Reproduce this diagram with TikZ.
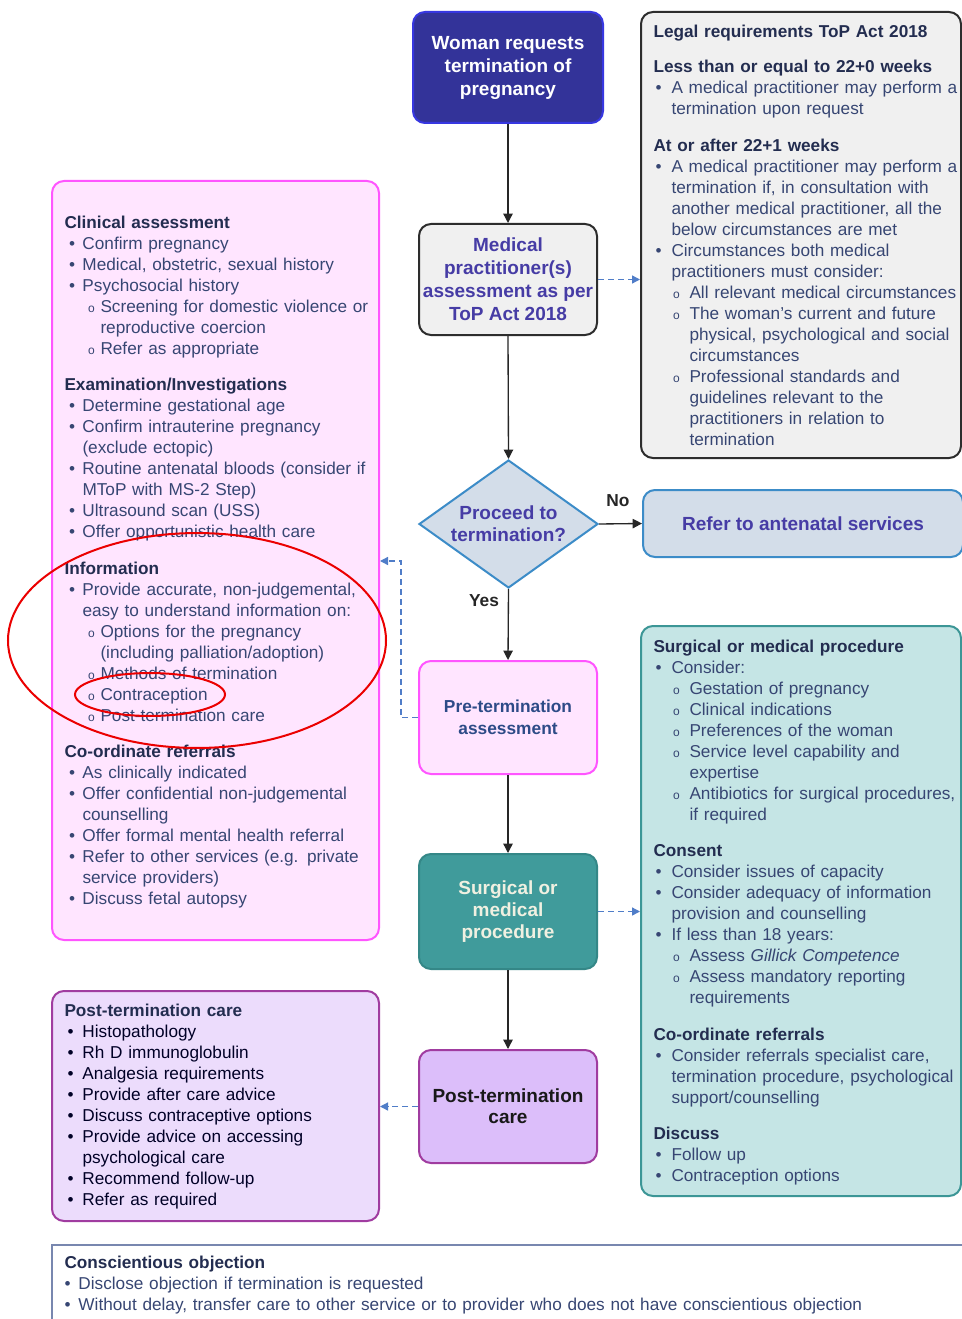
\documentclass[tikz,border=0pt]{standalone}
\usepackage{fontspec}
\setmainfont{Liberation Sans}
\usetikzlibrary{arrows.meta,fit,shapes.geometric}

\definecolor{flowtxt}{RGB}{70,60,165}
\definecolor{headtxt}{RGB}{35,45,80}
\definecolor{bodytxt}{RGB}{55,70,115}
\definecolor{womanfill}{RGB}{51,51,153}
\definecolor{womanline}{RGB}{55,55,225}
\definecolor{grayfill}{RGB}{240,240,240}
\definecolor{grayline}{RGB}{45,45,45}
\definecolor{decfill}{RGB}{211,221,233}
\definecolor{decline}{RGB}{60,140,200}
\definecolor{pinkfill}{RGB}{255,229,255}
\definecolor{pinkline}{RGB}{255,85,255}
\definecolor{tealfill}{RGB}{64,155,155}
\definecolor{tealline}{RGB}{52,135,135}
\definecolor{tealtxt}{RGB}{240,240,225}
\definecolor{lighttealfill}{RGB}{197,229,229}
\definecolor{lighttealline}{RGB}{60,150,150}
\definecolor{lilacfill}{RGB}{220,190,250}
\definecolor{lilacline}{RGB}{160,60,160}
\definecolor{palelilac}{RGB}{236,220,252}
\definecolor{pretxt}{RGB}{45,75,135}
\definecolor{objline}{RGB}{120,135,175}
\definecolor{dashcol}{RGB}{80,125,200}
\definecolor{marker}{RGB}{235,0,0}

\setlength{\parskip}{0pt}
\newlength{\bulx}\newlength{\subx}
\newcommand{\hdr}[1]{\par\noindent{\bfseries\color{headtxt}#1}}
\newcommand{\sectgap}{\par\vspace{11.5pt}}
\newcommand{\itm}[1]{\par\hangindent=13.5pt\hangafter=1\noindent\makebox[13.5pt][l]{\hspace*{\bulx}\textbullet}#1}
\newcommand{\subitm}[1]{\par\hangindent=27pt\hangafter=1\noindent\hspace*{13.5pt}\makebox[13.5pt][l]{\hspace*{\subx}{\fontsize{9}{9}\selectfont o}}#1}

\tikzset{every picture/.style={line width=0.75pt}}
\tikzset{
  flowbox/.style={rectangle, rounded corners=9pt, line width=1.5pt, inner sep=0pt, align=center,
    minimum width=133.5pt, font=\bfseries\fontsize{14.25}{17.25}\selectfont},
  panel/.style={rectangle, rounded corners=9pt, line width=1.5pt, inner sep=0pt},
  listtxt/.style={anchor=north west, inner sep=0pt, text width=#1, align=left, text=bodytxt,
    font=\fontsize{12.9}{15.75}\selectfont},
  lbl/.style={inner sep=0pt, text=black!85, font=\bfseries\fontsize{13}{15}\selectfont},
  arr/.style={draw=black!85, line width=1pt, -{Triangle[length=7pt,width=7pt]}},
  dasharr/.style={draw=dashcol, line width=1pt, dash pattern=on 4.5pt off 3pt, -{Triangle[length=6pt,width=6pt]}}
}

\begin{document}
\begin{tikzpicture}[x=0.75pt,y=0.75pt,yscale=-1,xscale=1]
\useasboundingbox (0,0) rectangle (962,1319);
\fill[white] (0,0) rectangle (962,1319);
\clip (0,0) rectangle (962,1319);

%Flowchart: Process
\node[flowbox, draw=womanline, fill=womanfill, text=white, minimum width=142.5pt, minimum height=83.25pt] (woman) at (508,67.5) {Woman requests\\termination of\\pregnancy};
%Flowchart: Process
\node[flowbox, draw=grayline, fill=grayfill, text=flowtxt, minimum height=83.25pt] (medic) at (508,279.5) {Medical\\practitioner(s)\\assessment as per\\ToP Act 2018};
%Flowchart: Decision
\node[diamond, aspect=1.4, draw=decline, fill=decfill, line width=1.5pt, inner sep=0pt, minimum width=134.25pt, minimum height=96pt,
  text=flowtxt, align=center, font=\bfseries\fontsize{14.25}{16.5}\selectfont] (decide) at (508.5,524) {Proceed to\\termination?};
%Flowchart: Process
\node[flowbox, draw=decline, fill=decfill, text=flowtxt, minimum width=240pt, minimum height=50.25pt] (refer) at (803,523.5) {Refer to antenatal services};
%Flowchart: Process
\node[flowbox, draw=pinkline, fill=pinkfill, text=pretxt, font=\bfseries\fontsize{13}{16.5}\selectfont, minimum height=84.75pt] (preterm) at (508,717.5) {Pre-termination\\assessment};
%Flowchart: Process
\node[flowbox, draw=tealline, fill=tealfill, text=tealtxt, font=\bfseries\fontsize{14.25}{16.5}\selectfont, minimum height=86.25pt] (surg) at (508,911.5) {Surgical or\\medical\\procedure};
%Flowchart: Process
\node[flowbox, draw=lilacline, fill=lilacfill, text=black!90, font=\bfseries\fontsize{14.25}{15.75}\selectfont, minimum height=84.75pt] (post) at (508,1106.5) {Post-termination\\care};

%Rounded Rect
\node[panel, draw=grayline, fill=grayfill, fit={(641,12) (961,458)}] (legal) {};
%Rounded Rect
\node[panel, draw=pinkline, fill=pinkfill, fit={(52,181) (379,940)}] (prelist) {};
%Rounded Rect
\node[panel, draw=lighttealline, fill=lighttealfill, fit={(641,626) (961,1196)}] (proclist) {};
%Rounded Rect
\node[panel, draw=lilacline, fill=palelilac, fit={(52,991) (379,1221)}] (postlist) {};
%Shape: Rectangle
\node[panel, rounded corners=0pt, draw=objline, fill=white, fit={(52,1245) (980,1340)}] (objection) {};

%Straight Lines
\draw[arr] (woman.south) -- (medic.north);
\draw[arr] (medic.south) -- (decide.north);
\draw[arr] (decide.east) -- (refer.west);
\draw[arr] (decide.south) -- (preterm.north);
\draw[arr] (preterm.south) -- (surg.north);
\draw[arr] (surg.south) -- (post.north);
%Dashed Lines
\coordinate (infoin) at (380,561);
\draw[dasharr] (medic.east) -- (legal.west |- medic.east);
\draw[dasharr] (preterm.west) -- ++(-17,0) |- (infoin);
\draw[dasharr] (surg.east) -- (proclist.west |- surg.east);
\draw[dasharr] (post.west) -- (postlist.east |- post.west);

% Text Node
\node[lbl] (no) at (618,501) {No};
% Text Node
\node[lbl] (yes) at (484,601) {Yes};

% Text Node
\node[listtxt=240pt] (legaltxt) at (653,16) {\setlength{\bulx}{1.5pt}\setlength{\subx}{1.25pt}%
\hdr{Legal requirements ToP Act 2018}
\par\vspace{10.5pt}\hdr{Less than or equal to 22+0 weeks}
\itm{A medical practitioner may perform a\newline termination upon request}
\par\vspace{12pt}\hdr{At or after 22+1 weeks}
\itm{A medical practitioner may perform a\newline termination if, in consultation with\newline another medical practitioner, all the\newline below circumstances are met}
\itm{Circumstances both medical\newline practitioners must consider:}
\subitm{All relevant medical circumstances}
\subitm{The woman's current and future\newline physical, psychological and social\newline circumstances}
\subitm{Professional standards and\newline guidelines relevant to the\newline practitioners in relation to\newline termination}\par};

% Text Node
\node[listtxt=250pt] (pretxt) at (64,207) {\setlength{\bulx}{3.5pt}\setlength{\subx}{4.25pt}%
\hdr{Clinical assessment}
\itm{Confirm pregnancy}
\itm{Medical, obstetric, sexual history}
\itm{Psychosocial history}
\subitm{Screening for domestic violence or\newline reproductive coercion}
\subitm{Refer as appropriate}
\sectgap\hdr{Examination/Investigations}
\itm{Determine gestational age}
\itm{Confirm intrauterine pregnancy\newline (exclude ectopic)}
\itm{Routine antenatal bloods (consider if\newline MToP with MS-2 Step)}
\itm{Ultrasound scan (USS)}
\itm{Offer opportunistic health care}
\sectgap\hdr{Information}
\itm{Provide accurate, non-judgemental,\newline easy to understand information on:}
\subitm{Options for the pregnancy\newline (including palliation/adoption)}
\subitm{Methods of termination}
\subitm{Contraception}
\subitm{Post-termination care}
\sectgap\hdr{Co-ordinate referrals}
\itm{As clinically indicated}
\itm{Offer confidential non-judgemental\newline counselling}
\itm{Offer formal mental health referral}
\itm{Refer to other services (e.g. private\newline service providers)}
\itm{Discuss fetal autopsy}\par};

% Text Node
\node[listtxt=240pt] (proctxt) at (653,631) {\setlength{\bulx}{1.5pt}\setlength{\subx}{1.25pt}%
\hdr{Surgical or medical procedure}
\itm{Consider:}
\subitm{Gestation of pregnancy}
\subitm{Clinical indications}
\subitm{Preferences of the woman}
\subitm{Service level capability and\newline expertise}
\subitm{Antibiotics for surgical procedures,\newline if required}
\sectgap\hdr{Consent}
\itm{Consider issues of capacity}
\itm{Consider adequacy of information\newline provision and counselling}
\itm{If less than 18 years:}
\subitm{Assess \textit{Gillick Competence}}
\subitm{Assess mandatory reporting\newline requirements}
\sectgap\hdr{Co-ordinate referrals}
\itm{Consider referrals specialist care,\newline termination procedure, psychological\newline support/counselling}
\sectgap\hdr{Discuss}
\itm{Follow up}
\itm{Contraception options}\par};

% Text Node
\node[listtxt=250pt, text=black!75!blue!60!black] (posttxt) at (64,995) {\setlength{\bulx}{2.25pt}%
\hdr{Post-termination care}
\itm{Histopathology}
\itm{Rh D immunoglobulin}
\itm{Analgesia requirements}
\itm{Provide after care advice}
\itm{Discuss contraceptive options}
\itm{Provide advice on accessing\newline psychological care}
\itm{Recommend follow-up}
\itm{Refer as required}\par};

% Text Node
\node[listtxt=700pt] (objtxt) at (64,1247) {\setlength{\bulx}{0pt}%
\hdr{Conscientious objection}
\par\noindent\makebox[10.5pt][l]{\textbullet}Disclose objection if termination is requested
\par\noindent\makebox[10.5pt][l]{\textbullet}Without delay, transfer care to other service or to provider who does not have conscientious objection\par};

%Shape: Ellipse
\draw[marker, line width=1.5pt] (197,640.5) ellipse [x radius=141.75pt, y radius=80.6pt];
%Shape: Ellipse
\draw[marker, line width=1.5pt] (150,694.5) ellipse [x radius=56.25pt, y radius=16.1pt];

\end{tikzpicture}
\end{document}
